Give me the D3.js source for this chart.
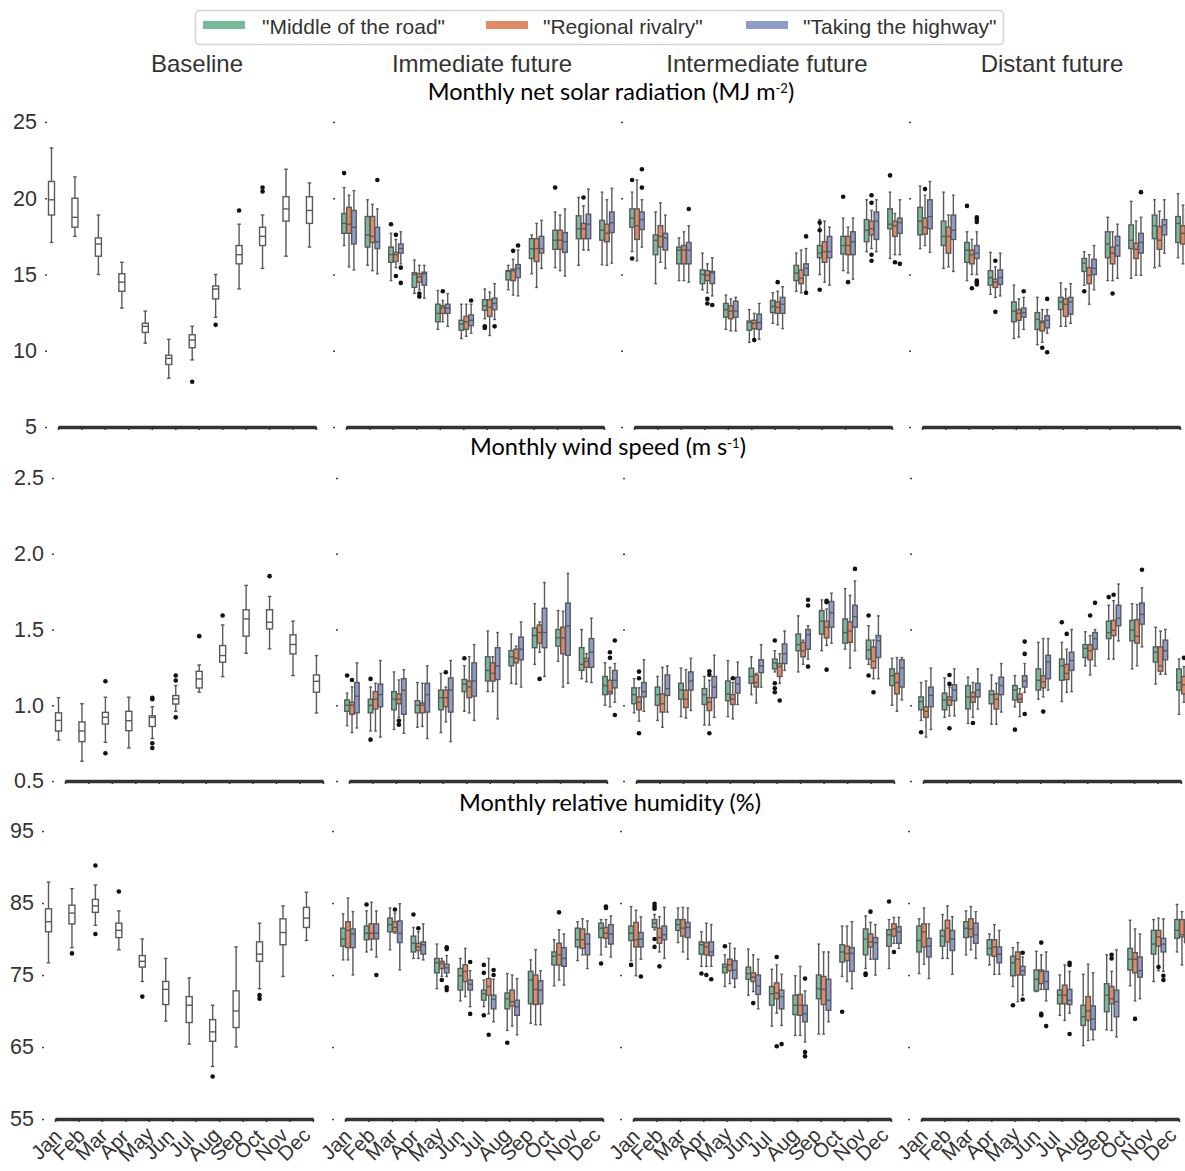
<!DOCTYPE html>
<html>
<head>
<meta charset="utf-8">
<script src="https://cdn.jsdelivr.net/npm/d3@7"></script>
<style>
  body { margin: 0; background: #fff; }
  svg { display: block; font-family: "Liberation Sans", Arial, sans-serif; }
</style>
</head>
<body>
<svg id="chart" width="1185" height="1171"></svg>
<script>
const months = ["Jan","Feb","Mar","Apr","May","Jun","Jul","Aug","Sep","Oct","Nov","Dec"];
const periods = ["Baseline","Immediate future","Intermediate future","Distant future"];
const scenarios = ['"Middle of the road"','"Regional rivalry"','"Taking the highway"'];
const scenarioColors = ["#78bb9b","#e48a62","#8e9cca"];

const solarTicks = [5,10,15,20,25];
const windTicks = [0.5,1.0,1.5,2.0,2.5];
const humTicks = [55,65,75,85,95];

// box stats: [low whisker, q1, median, q3, high whisker]
const solarBase = [
  [17.1,18.9,19.9,21.1,23.3],[17.5,18.1,18.75,20.0,21.4],[15.0,16.2,17.0,17.4,18.9],
  [12.8,13.9,14.5,15.05,15.8],[10.5,11.2,11.6,11.8,12.6],[8.2,9.1,9.5,9.7,10.75],
  [9.4,10.2,10.7,11.05,11.6],[12.2,13.4,14.05,14.25,15.0],[14.05,15.7,16.3,16.9,18.3],
  [15.4,16.9,17.5,18.1,18.9],[16.2,18.5,19.3,20.1,21.9],[16.8,18.35,19.2,20.1,21.0]
];
const solarBaseOut = [[6,7.97],[7,11.7],[8,19.2],[9,20.7],[9,20.45]];

// per month: [middle of the road, regional rivalry, taking the highway]
const solarImm = [
  [[16.9,17.7,18.35,19.0,20.7],[15.5,17.7,18.3,19.4,20.2],[15.3,17.0,18.1,19.2,20.5]],
  [[15.6,16.8,17.6,18.8,19.9],[15.25,17.1,17.5,18.8,19.6],[15.05,16.7,17.15,18.1,19.3]],
  [[14.6,15.8,16.3,16.8,17.7],[15.45,15.85,16.3,16.45,17.3],[15.7,16.4,16.7,17.0,17.8]],
  [[13.76,14.16,15.0,15.12,15.95],[14.0,14.5,14.85,15.05,15.6],[13.45,14.3,15.05,15.15,15.6]],
  [[11.4,11.9,12.45,13.05,13.95],[11.9,12.45,12.8,12.95,13.3],[11.6,12.45,12.8,13.05,13.75]],
  [[10.8,11.35,11.75,12.0,13.05],[10.95,11.4,11.9,12.25,13.05],[11.15,11.65,12.0,12.35,13.05]],
  [[12.1,12.65,12.95,13.35,14.05],[11.0,12.25,12.85,13.35,13.85],[12.05,12.7,13.1,13.45,14.4]],
  [[14.0,14.65,15.2,15.25,15.6],[13.65,14.6,15.25,15.35,16.0],[13.6,14.8,15.4,15.65,16.6]],
  [[15.05,16.05,16.7,17.35,17.6],[14.15,15.85,16.7,17.35,18.35],[15.4,16.4,16.7,17.5,18.55]],
  [[15.45,16.65,17.25,17.9,19.1],[15.25,16.65,17.25,17.9,18.9],[14.9,16.45,17.15,17.75,19.3]],
  [[15.6,17.35,18.0,18.85,20.05],[16.6,17.35,18.0,18.35,19.5],[16.6,17.35,18.3,18.95,20.6]],
  [[15.65,17.25,17.9,18.55,20.4],[15.6,17.15,17.7,18.3,19.9],[15.75,17.75,18.4,19.1,20.65]]
];
const solarImmOut = [[0,0,21.65],[1,2,21.2],[2,0,18.3],[2,1,17.6],[2,1,14.9],[2,2,15.45],[2,2,14.45],
  [3,1,13.75],[3,1,13.55],[4,1,13.9],[5,2,13.3],[6,0,11.6],[6,0,11.5],[6,2,11.6],[7,1,16.55],
  [7,2,16.9],[9,0,20.7],[10,1,20.05]];

const solarInt = [
  [[16.5,18.1,18.7,19.3,20.4],[15.9,17.3,18.2,19.3,21.2],[16.8,17.95,18.6,19.1,19.9]],
  [[14.4,16.3,17.25,17.6,19.1],[15.8,16.8,17.5,18.2,19.7],[15.4,16.6,17.4,17.7,18.9]],
  [[14.6,15.7,16.6,16.8,17.4],[14.6,15.7,16.6,16.9,17.8],[14.5,15.7,16.6,17.1,18.2]],
  [[14.0,14.4,15.0,15.3,16.4],[13.8,14.6,14.95,15.25,15.7],[13.6,14.4,15.1,15.2,16.1]],
  [[11.4,12.2,12.7,13.1,13.65],[11.3,12.1,12.6,12.95,13.4],[11.3,12.2,12.6,13.25,13.5]],
  [[10.55,11.35,11.85,11.95,12.7],[10.75,11.45,11.8,12.0,12.45],[10.75,11.4,11.85,12.4,13.1]],
  [[11.8,12.5,12.9,13.3,13.8],[11.7,12.45,12.85,13.2,13.9],[11.45,12.45,13.05,13.5,14.2]],
  [[13.9,14.6,15.1,15.6,16.4],[13.8,14.4,14.75,15.3,16.6],[13.7,14.95,15.4,15.7,16.7]],
  [[15.0,16.1,16.4,16.9,18.6],[14.5,15.8,16.5,17.15,18.5],[14.3,16.1,16.5,17.5,18.1]],
  [[15.25,16.35,16.9,17.5,18.7],[15.1,16.3,16.9,17.5,18.1],[14.7,16.3,17.15,17.8,18.7]],
  [[16.5,17.15,17.9,18.6,19.9],[16.7,17.6,18.0,18.5,19.2],[16.5,17.3,18.5,19.1,19.9]],
  [[16.05,18.0,18.3,19.3,20.4],[16.3,17.5,18.2,18.5,19.0],[16.3,17.7,18.4,18.7,19.9]]
];
const solarIntOut = [[0,0,21.2],[0,0,16.05],[0,2,21.9],[0,2,20.7],[2,2,19.3],[3,1,13.4],[3,1,13.1],
  [3,2,13.0],[5,1,10.7],[6,1,14.5],[7,2,17.5],[7,2,13.8],[8,0,18.4],[8,0,17.9],[8,0,14.0],
  [9,0,20.1],[9,1,14.5],[10,1,20.2],[10,1,19.7],[10,1,16.3],[10,1,15.9],[11,0,21.5],[11,1,15.8],[11,2,15.7]];

const solarDist = [
  [[16.7,17.6,18.5,19.4,20.8],[16.9,17.65,18.1,18.7,20.2],[16.45,18.0,18.8,19.9,21.1]],
  [[15.4,16.9,17.5,18.5,20.4],[15.5,16.4,17.5,18.1,18.9],[15.2,17.3,17.9,18.9,20.2]],
  [[14.6,15.8,16.6,17.1,17.8],[15.0,15.7,16.3,16.6,17.3],[15.0,16.05,16.4,16.9,17.8]],
  [[13.7,14.3,14.8,15.25,16.45],[13.5,14.15,14.5,14.7,15.5],[13.6,14.35,14.8,15.3,16.4]],
  [[10.8,11.9,12.6,13.2,14.3],[10.9,12.0,12.45,12.7,13.4],[11.4,12.2,12.5,12.8,13.5]],
  [[10.4,11.4,12.05,12.5,13.5],[10.55,11.3,11.85,11.95,12.7],[11.15,11.5,12.0,12.3,12.7]],
  [[11.6,12.7,13.2,13.5,14.45],[11.6,12.25,13.05,13.4,14.05],[11.8,12.4,13.2,13.5,14.4]],
  [[14.3,15.2,15.75,16.05,16.5],[13.05,14.4,14.95,15.45,16.3],[14.0,15.0,15.4,16.0,16.9]],
  [[14.6,16.1,17.0,17.8,18.75],[14.6,15.7,16.4,16.8,17.8],[14.75,16.2,16.9,17.5,18.3]],
  [[14.75,16.7,17.25,18.25,19.8],[14.95,16.05,16.65,17.05,18.5],[14.95,16.4,17.1,17.7,18.75]],
  [[15.45,17.35,18.2,18.9,19.9],[15.55,16.65,17.25,18.15,19.15],[16.4,17.6,18.25,18.6,19.9]],
  [[16.1,17.1,18.35,18.8,20.3],[15.7,17.0,17.7,18.2,19.55],[15.95,17.6,17.9,19.3,20.1]]
];
const solarDistOut = [[0,1,20.6],[2,0,19.5],[2,1,14.1],[2,2,18.75],[2,2,18.6],[2,2,18.45],[2,2,14.6],
  [2,2,14.5],[2,2,14.35],[3,1,15.9],[3,1,12.55],[4,2,13.9],[5,1,10.2],[5,2,13.4],[5,2,9.9],
  [7,0,13.9],[8,1,13.75],[9,2,20.4]];

const windBase = [
  [0.77,0.83,0.90,0.95,1.05],[0.63,0.76,0.83,0.89,1.01],[0.755,0.876,0.92,0.953,1.053],
  [0.718,0.832,0.898,0.96,1.053],[0.78,0.86,0.92,0.93,0.99],[0.96,1.008,1.042,1.064,1.13],
  [1.086,1.114,1.174,1.224,1.266],[1.189,1.284,1.328,1.394,1.53],[1.343,1.456,1.57,1.63,1.791],
  [1.372,1.504,1.548,1.63,1.718],[1.196,1.339,1.401,1.465,1.555],[0.949,1.086,1.158,1.2,1.328]
];
const windBaseOut = [[2,1.158],[2,0.683],[4,1.05],[4,1.04],[4,0.749],[4,0.718],[5,1.196],[5,1.163],
  [5,0.92],[6,1.456],[7,1.592],[9,1.852]];

const windImm = [
  [[0.865,0.96,1.0,1.035,1.08],[0.82,0.94,1.0,1.02,1.12],[0.85,0.95,1.06,1.15,1.28]],
  [[0.83,0.95,1.0,1.04,1.12],[0.83,0.975,1.04,1.09,1.145],[0.79,0.99,1.07,1.14,1.295]],
  [[0.84,0.97,1.04,1.09,1.22],[0.92,1.01,1.04,1.075,1.167],[0.815,0.94,1.1,1.175,1.235]],
  [[0.855,0.95,1.0,1.03,1.15],[0.86,0.95,1.0,1.015,1.145],[0.78,0.955,1.07,1.145,1.26]],
  [[0.82,0.97,1.05,1.1,1.21],[0.89,0.99,1.05,1.1,1.12],[0.76,0.955,1.1,1.18,1.295]],
  [[0.96,1.09,1.14,1.17,1.26],[0.95,1.05,1.12,1.16,1.32],[0.9,1.06,1.16,1.28,1.4]],
  [[1.09,1.16,1.23,1.32,1.49],[1.09,1.16,1.21,1.28,1.32],[0.91,1.17,1.26,1.38,1.48]],
  [[1.145,1.26,1.32,1.36,1.47],[1.14,1.28,1.31,1.37,1.39],[1.12,1.3,1.37,1.45,1.55]],
  [[1.27,1.38,1.46,1.51,1.67],[1.35,1.41,1.48,1.53,1.55],[1.19,1.38,1.48,1.64,1.81]],
  [[1.29,1.39,1.445,1.5,1.625],[1.12,1.34,1.445,1.515,1.62],[1.145,1.33,1.525,1.675,1.87]],
  [[1.175,1.23,1.27,1.38,1.5],[1.155,1.25,1.29,1.31,1.34],[1.15,1.25,1.35,1.44,1.575]],
  [[1.0,1.07,1.13,1.19,1.28],[0.99,1.075,1.09,1.165,1.25],[1.02,1.115,1.165,1.23,1.275]]
];
const windImmOut = [[0,0,1.196],[0,1,1.167],[1,0,1.174],[1,0,0.773],[2,1,0.898],[2,1,0.872],[4,1,1.218],
  [5,0,1.31],[8,1,1.174],[11,2,1.427],[11,1,1.35],[11,1,1.313],[11,2,0.936]];

const windInt = [
  [[0.95,1.01,1.07,1.115,1.175],[0.895,0.97,1.02,1.055,1.115],[0.96,1.055,1.09,1.15,1.3]],
  [[0.9,1.0,1.07,1.12,1.19],[0.855,0.955,1.01,1.075,1.25],[0.955,1.065,1.11,1.2,1.26]],
  [[0.925,1.04,1.1,1.145,1.245],[0.915,0.985,1.04,1.1,1.235],[0.965,1.1,1.16,1.22,1.31]],
  [[0.87,1.005,1.07,1.11,1.19],[0.87,0.965,1.02,1.05,1.165],[0.92,1.05,1.12,1.19,1.33]],
  [[0.925,1.03,1.075,1.16,1.295],[0.91,1.005,1.04,1.07,1.15],[1.005,1.08,1.14,1.185,1.285]],
  [[1.07,1.145,1.19,1.245,1.32],[1.015,1.12,1.15,1.2,1.21],[1.12,1.215,1.26,1.3,1.4]],
  [[1.22,1.24,1.28,1.305,1.36],[1.145,1.19,1.255,1.275,1.34],[1.23,1.275,1.34,1.405,1.49]],
  [[1.22,1.36,1.4,1.47,1.59],[1.27,1.32,1.36,1.415,1.43],[1.305,1.37,1.465,1.5,1.525]],
  [[1.36,1.47,1.555,1.625,1.695],[1.395,1.445,1.515,1.555,1.635],[1.41,1.515,1.61,1.685,1.74]],
  [[1.37,1.41,1.48,1.57,1.77],[1.245,1.415,1.49,1.55,1.725],[1.36,1.515,1.585,1.66,1.82]],
  [[1.27,1.305,1.365,1.43,1.525],[1.175,1.245,1.29,1.385,1.43],[1.175,1.315,1.425,1.46,1.59]],
  [[1.0,1.13,1.195,1.24,1.31],[0.96,1.075,1.15,1.21,1.315],[1.035,1.12,1.245,1.3,1.315]]
];
const windIntOut = [[0,1,1.222],[0,1,1.178],[0,1,0.815],[3,1,1.224],[3,1,1.202],[3,1,0.815],[4,1,1.178],
  [6,0,1.427],[6,0,1.145],[6,0,1.112],[6,0,1.086],[6,1,1.031],[7,2,1.696],[7,2,1.658],[7,2,1.255],
  [8,1,1.69],[8,1,1.68],[8,1,1.235],[9,2,1.9],[10,0,1.592],[10,0,1.196],[10,1,1.086]];

const windDist = [
  [[0.9,0.97,1.025,1.055,1.15],[0.79,0.92,0.96,0.99,1.16],[0.84,0.99,1.065,1.12,1.245]],
  [[0.92,0.97,1.035,1.08,1.18],[0.93,1.0,1.035,1.055,1.12],[0.93,1.03,1.1,1.135,1.24]],
  [[0.88,0.975,1.055,1.13,1.185],[0.92,1.02,1.055,1.085,1.15],[0.975,1.055,1.1,1.145,1.24]],
  [[0.875,1.01,1.07,1.095,1.2],[0.875,0.975,1.04,1.075,1.145],[0.955,1.07,1.13,1.185,1.275]],
  [[0.99,1.035,1.1,1.13,1.195],[0.925,1.02,1.04,1.075,1.11],[1.085,1.12,1.16,1.195,1.275]],
  [[1.04,1.1,1.165,1.24,1.415],[1.055,1.115,1.155,1.195,1.44],[1.1,1.175,1.285,1.33,1.44]],
  [[1.025,1.165,1.26,1.305,1.415],[1.085,1.17,1.21,1.27,1.37],[1.09,1.23,1.295,1.35,1.5]],
  [[1.26,1.315,1.375,1.4,1.485],[1.2,1.3,1.36,1.4,1.46],[1.26,1.37,1.44,1.48,1.5]],
  [[1.305,1.44,1.48,1.555,1.66],[1.305,1.46,1.495,1.56,1.69],[1.425,1.525,1.575,1.66,1.8]],
  [[1.24,1.425,1.495,1.56,1.67],[1.26,1.41,1.455,1.565,1.665],[1.385,1.535,1.6,1.675,1.775]],
  [[1.14,1.285,1.35,1.385,1.515],[1.205,1.225,1.26,1.385,1.49],[1.205,1.3,1.36,1.43,1.5]],
  [[0.94,1.1,1.15,1.24,1.305],[1.02,1.075,1.135,1.19,1.255],[1.065,1.14,1.2,1.25,1.33]]
];
const windDistOut = [[0,0,0.822],[1,1,1.2],[1,1,1.141],[1,1,0.848],[2,1,0.883],[4,0,0.839],[4,2,1.42],
  [4,2,1.339],[4,2,0.942],[5,1,0.958],[6,0,1.548],[6,1,1.471],[7,1,1.592],[7,2,1.676],[8,0,1.714],
  [8,1,1.729],[9,2,1.894],[11,1,1.313],[11,2,1.431],[11,2,1.4]];

const humBase = [
  [76.7,81.0,82.4,84.2,87.9],[78.8,82.1,83.6,84.7,87.0],[81.9,83.7,84.6,85.5,87.5],
  [78.5,80.2,81.2,82.2,83.9],[74.1,76.1,76.9,77.7,80.0],[68.6,70.9,73.0,74.1,77.3],
  [65.4,68.4,70.8,72.0,74.6],[62.3,65.8,67.1,68.8,70.8],[65.0,67.7,70.0,72.8,78.9],
  [73.1,76.9,77.9,79.6,82.2],[74.8,79.2,80.9,82.8,84.6],[79.8,81.6,82.9,84.4,86.5]
];
const humBaseOut = [[1,78.0],[2,90.2],[2,80.7],[3,86.6],[4,72.0],[7,60.9],[9,72.2],[9,71.7]];

const humImm = [
  [[77.1,79.0,80.0,81.5,83.5],[77.1,78.8,81.2,82.4,85.7],[75.0,78.8,80.7,81.4,83.8]],
  [[78.2,79.9,80.8,81.8,83.9],[78.5,80.0,80.8,82.1,85.1],[77.5,80.0,80.8,82.1,83.9]],
  [[78.5,81.0,82.0,82.9,84.3],[80.8,81.0,81.6,82.4,83.6],[75.7,79.5,80.8,82.5,84.9]],
  [[77.3,78.2,79.4,80.4,81.6],[77.3,78.4,78.9,79.4,81.0],[77.1,77.9,79.2,79.6,82.1]],
  [[73.1,75.3,76.7,77.3,79.3],[74.8,75.9,76.6,76.9,77.3],[74.8,75.3,76.0,76.5,77.7]],
  [[71.4,72.9,74.9,75.9,77.3],[72.0,74.1,75.5,76.4,78.7],[70.6,72.9,73.7,74.3,75.6]],
  [[70.6,71.5,72.4,72.9,74.3],[69.6,72.2,73.4,74.5,77.3],[68.5,70.3,71.6,72.2,74.4]],
  [[67.3,70.3,71.7,72.5,75.2],[67.9,70.7,71.3,72.9,75.0],[66.7,69.4,70.6,71.5,74.5]],
  [[68.3,71.0,74.3,75.5,77.1],[68.1,70.9,73.0,75.0,78.5],[68.1,71.0,72.9,74.2,75.6]],
  [[73.5,76.4,77.6,78.2,79.9],[74.3,76.4,77.8,79.4,81.3],[73.6,76.2,77.3,78.8,80.7]],
  [[77.0,78.9,79.9,81.5,82.4],[77.8,78.7,79.9,81.4,82.8],[75.9,77.8,79.3,80.7,82.5]],
  [[77.8,80.2,81.5,82.2,82.7],[78.9,80.1,80.8,81.6,82.7],[77.5,79.3,80.7,82.0,83.2]]
];
const humImmOut = [[1,0,84.8],[1,2,75.0],[2,1,84.1],[3,0,83.4],[3,1,81.5],[4,1,74.3],[4,2,78.85],
  [4,2,78.6],[4,2,73.3],[4,2,72.9],[5,2,76.8],[5,2,69.6],[6,0,76.4],[6,0,75.3],[6,0,69.4],
  [6,1,66.7],[6,2,75.7],[6,2,75.0],[7,0,65.6],[9,1,83.7],[11,0,76.6],[11,1,84.5],[11,1,84.3]];

const humInt = [
  [[77.0,79.8,80.8,81.8,84.5],[74.9,78.9,79.9,82.3,84.0],[77.2,78.9,80.0,80.9,83.1]],
  [[81.3,81.6,82.2,82.7,83.4],[78.2,79.4,80.2,81.5,83.1],[77.3,79.9,80.6,81.8,84.4]],
  [[79.5,81.2,82.0,82.7,84.3],[78.2,80.4,81.5,82.7,84.4],[77.2,80.2,81.6,82.3,84.3]],
  [[76.2,77.9,79.2,79.6,81.0],[76.2,77.8,78.9,79.5,82.2],[76.2,77.7,78.2,79.6,82.0]],
  [[73.4,75.3,76.1,76.5,77.8],[73.8,75.6,76.4,77.2,79.4],[73.3,74.5,75.7,77.0,78.7]],
  [[72.2,74.4,75.2,76.1,78.6],[72.7,74.1,74.7,75.3,77.8],[70.3,72.3,73.5,75.0,77.2]],
  [[67.9,70.8,72.4,73.4,75.8],[69.7,71.7,72.5,73.9,76.4],[68.0,70.3,72.0,72.9,75.1]],
  [[66.6,69.5,70.8,72.2,74.9],[66.6,69.4,70.8,72.3,76.2],[65.7,68.5,69.6,70.8,72.8]],
  [[66.8,71.7,73.1,75.0,79.3],[66.8,70.9,73.0,74.8,78.2],[68.5,70.1,71.5,74.4,78.2]],
  [[74.8,76.8,78.2,79.2,81.8],[74.1,77.0,78.0,79.0,81.8],[73.1,75.5,78.0,78.8,82.4]],
  [[75.9,77.8,80.0,81.4,83.2],[77.2,78.9,79.6,80.7,82.3],[75.0,77.2,79.5,80.2,82.0]],
  [[75.9,79.0,80.6,81.3,82.7],[79.4,80.4,81.4,82.1,83.0],[78.7,79.4,81.0,81.7,83.0]]
];
const humIntOut = [[0,0,76.4],[0,2,74.8],[1,0,84.9],[1,0,84.5],[1,0,84.2],[1,0,80.0],[1,0,78.9],
  [1,1,76.2],[3,0,75.2],[3,1,75.0],[3,2,74.4],[4,0,79.0],[5,1,71.1],[6,1,77.5],[6,1,65.1],
  [6,2,65.4],[7,2,74.5],[7,2,64.3],[7,2,63.7],[9,0,69.9],[10,0,75.2],[10,0,75.0],[10,1,83.8],
  [11,0,85.2],[11,1,78.2]];

const humDist = [
  [[75.2,78.2,79.8,81.8,82.8],[76.5,78.9,81.0,82.1,84.3],[74.5,77.5,79.0,80.1,82.1]],
  [[77.3,79.0,80.4,81.2,83.4],[77.3,79.6,81.5,82.6,84.6],[75.1,78.4,80.0,81.2,83.1]],
  [[77.8,80.2,81.5,82.4,83.9],[78.5,80.3,81.4,82.8,84.5],[77.3,79.4,80.6,82.2,83.8]],
  [[76.4,77.8,78.7,79.9,80.7],[75.1,77.6,78.9,79.9,82.0],[75.1,76.7,77.9,78.9,81.2]],
  [[73.4,74.9,76.7,77.6,78.8],[71.3,75.0,77.2,78.2,79.5],[72.2,75.0,75.6,76.2,77.5]],
  [[72.7,72.8,74.4,75.7,78.3],[73.0,73.8,75.5,75.7,77.8],[71.4,73.0,74.1,75.5,78.2]],
  [[69.4,71.0,72.2,72.9,75.0],[68.7,71.0,72.2,73.6,76.4],[69.7,70.9,71.5,73.0,75.5]],
  [[65.2,68.0,69.2,70.8,75.1],[65.9,68.7,70.0,72.0,76.5],[66.0,67.4,68.9,70.7,75.3]],
  [[67.4,69.9,72.2,73.8,77.8],[67.3,71.0,71.7,73.4,75.5],[66.4,69.2,71.3,72.9,78.5]],
  [[73.5,75.7,77.2,78.7,82.6],[71.4,75.3,77.2,78.1,81.4],[71.7,74.7,75.6,77.5,80.7]],
  [[74.1,77.9,79.3,81.2,82.7],[75.6,79.0,80.3,81.2,82.9],[75.5,78.2,79.3,80.1,82.8]],
  [[78.2,80.1,81.2,82.7,84.8],[76.4,80.3,80.6,82.7,83.8],[77.0,79.5,80.8,82.0,84.0]]
];
const humDistOut = [[4,0,70.8],[4,2,78.1],[4,2,71.6],[5,1,79.5],[5,1,69.6],[5,1,69.4],[5,2,67.9],
  [6,2,76.7],[6,2,76.4],[6,2,66.8],[8,1,77.8],[8,1,77.3],[9,1,68.9],[10,1,76.1],[10,2,74.9],[10,2,74.3]];

// ---------------- layout ----------------
const svg = d3.select("#chart");
const STEP = 23.45;           // spacing between months
const LABEL_STEP = 22.5;      // month labels sit a bit tighter than the boxes
const LINE = "#5a5a5a";

const rows = [
  { title: ["Monthly net solar radiation (MJ m", "-2", ")"], titleX: 611, titleY: 100,
    ticks: solarTicks, fmt: d3.format("d"), top: 122, bottom: 427, axisX: [58,346,634,922],
    base: solarBase, baseOut: solarBaseOut,
    fut: [solarImm, solarInt, solarDist], futOut: [solarImmOut, solarIntOut, solarDistOut] },
  { title: ["Monthly wind speed (m s", "-1", ")"], titleX: 608, titleY: 455,
    ticks: windTicks, fmt: d3.format(".1f"), top: 478, bottom: 781, axisX: [65,349,636,923],
    base: windBase, baseOut: windBaseOut,
    fut: [windImm, windInt, windDist], futOut: [windImmOut, windIntOut, windDistOut] },
  { title: ["Monthly relative humidity (%)"], titleX: 610, titleY: 811,
    ticks: humTicks, fmt: d3.format("d"), top: 831, bottom: 1119, axisX: [55,345,633,921],
    base: humBase, baseOut: humBaseOut,
    fut: [humImm, humInt, humDist], futOut: [humImmOut, humIntOut, humDistOut] }
];

function drawBox(g, y, cx, w, s, fill) {
  const [lo, q1, med, q3, hi] = s;
  const cap = w * 0.3;
  g.append("line").attr("x1", cx).attr("x2", cx).attr("y1", y(hi)).attr("y2", y(q3));
  g.append("line").attr("x1", cx).attr("x2", cx).attr("y1", y(q1)).attr("y2", y(lo));
  g.append("line").attr("x1", cx - cap).attr("x2", cx + cap).attr("y1", y(hi)).attr("y2", y(hi));
  g.append("line").attr("x1", cx - cap).attr("x2", cx + cap).attr("y1", y(lo)).attr("y2", y(lo));
  g.append("rect").attr("x", cx - w / 2).attr("width", w)
    .attr("y", y(q3)).attr("height", Math.max(0.5, y(q1) - y(q3))).attr("fill", fill);
  g.append("line").attr("x1", cx - w / 2).attr("x2", cx + w / 2).attr("y1", y(med)).attr("y2", y(med));
}

rows.forEach((row, r) => {
  const y = d3.scaleLinear()
    .domain([row.ticks[0], row.ticks[row.ticks.length - 1]])
    .range([row.bottom, row.top]);

  periods.forEach((p, c) => {
    const x0 = row.axisX[c];
    const x = d3.scalePoint().domain(months).range([x0, x0 + 11 * STEP]);
    const panel = svg.append("g");

    // y axis: tick marks only, labels on the first column
    const ya = panel.append("g")
      .attr("transform", `translate(${x0 - 11},0)`)
      .call(d3.axisLeft(y).tickValues(row.ticks).tickSize(2).tickPadding(8)
        .tickFormat(c === 0 ? row.fmt : ""));
    ya.select(".domain").remove();
    ya.selectAll(".tick line").attr("stroke", "#444").attr("stroke-width", 1.5);
    ya.selectAll(".tick text").attr("font-size", 21.5).attr("fill", "#333")
      .attr("font-family", "Liberation Sans, Arial, sans-serif");

    // x axis: thick trimmed spine
    const xa = panel.append("g")
      .attr("transform", `translate(0,${row.bottom})`)
      .call(d3.axisBottom(x).tickSize(3).tickSizeOuter(0).tickFormat(""));
    xa.select(".domain").attr("stroke", "#333").attr("stroke-width", 3.5);
    xa.selectAll(".tick line").attr("stroke", "#333").attr("stroke-width", 1.5);

    // month labels on the bottom row, rotated 45 degrees and centred on their point
    if (r === 2) {
      const xl = d3.scalePoint().domain(months).range([x0 - 9, x0 - 9 + 11 * LABEL_STEP]);
      panel.append("g").selectAll("text").data(months).join("text")
        .attr("transform", d => `translate(${xl(d)},${row.bottom + 25}) rotate(-45)`)
        .attr("text-anchor", "middle").attr("dominant-baseline", "central")
        .attr("font-size", 20.5).attr("fill", "#333")
        .text(d => d);
    }

    const boxes = panel.append("g").attr("stroke", LINE).attr("stroke-width", 1.4);
    const dots = panel.append("g").attr("fill", "#111");

    if (c === 0) {
      const off = -6.5, w = 6;
      row.base.forEach((s, i) => drawBox(boxes, y, x(months[i]) + off, w, s, "#fff"));
      dots.selectAll("circle").data(row.baseOut).join("circle")
        .attr("cx", d => x(months[d[0]]) + off)
        .attr("cy", d => y(d[1])).attr("r", 2.3);
    } else {
      const stats = row.fut[c - 1], outs = row.futOut[c - 1];
      const off = 3, w = 4.6, gap = 4.9;
      stats.forEach((grp, i) => grp.forEach((s, k) =>
        drawBox(boxes, y, x(months[i]) + off + (k - 1) * gap, w, s, scenarioColors[k])));
      dots.selectAll("circle").data(outs).join("circle")
        .attr("cx", d => x(months[d[0]]) + off + (d[1] - 1) * gap)
        .attr("cy", d => y(d[2])).attr("r", 2.3);
    }
  });

  // row title
  const t = svg.append("text")
    .attr("x", row.titleX).attr("y", row.titleY)
    .attr("text-anchor", "middle")
    .attr("font-family", "Lato, 'Open Sans', sans-serif")
    .attr("font-size", 23.5).attr("fill", "#000");
  t.append("tspan").text(row.title[0]);
  if (row.title.length > 1) {
    t.append("tspan").attr("font-size", 13).attr("dy", -7).text(row.title[1]);
    t.append("tspan").attr("dy", 7).text(row.title[2]);
  }
});

// column titles
const titleX = [197, 482, 767, 1052];
svg.selectAll(".coltitle").data(periods).join("text")
  .attr("class", "coltitle")
  .attr("x", (d, i) => titleX[i]).attr("y", 72)
  .attr("text-anchor", "middle").attr("font-size", 24).attr("fill", "#333")
  .text(d => d);

// legend
const legend = svg.append("g");
legend.append("rect").attr("x", 195.5).attr("y", 10.5).attr("width", 808).attr("height", 34)
  .attr("rx", 4).attr("fill", "#fff").attr("stroke", "#d3d3d3").attr("stroke-width", 1.5);
const swatchX = [203, 486, 746];
const labelX = [262, 543, 803];
scenarios.forEach((s, i) => {
  legend.append("rect").attr("x", swatchX[i]).attr("y", 21).attr("width", 42).attr("height", 8)
    .attr("fill", scenarioColors[i]);
  legend.append("text").attr("x", labelX[i]).attr("y", 34)
    .attr("font-size", 21).attr("fill", "#333").text(s);
});
</script>
</body>
</html>
